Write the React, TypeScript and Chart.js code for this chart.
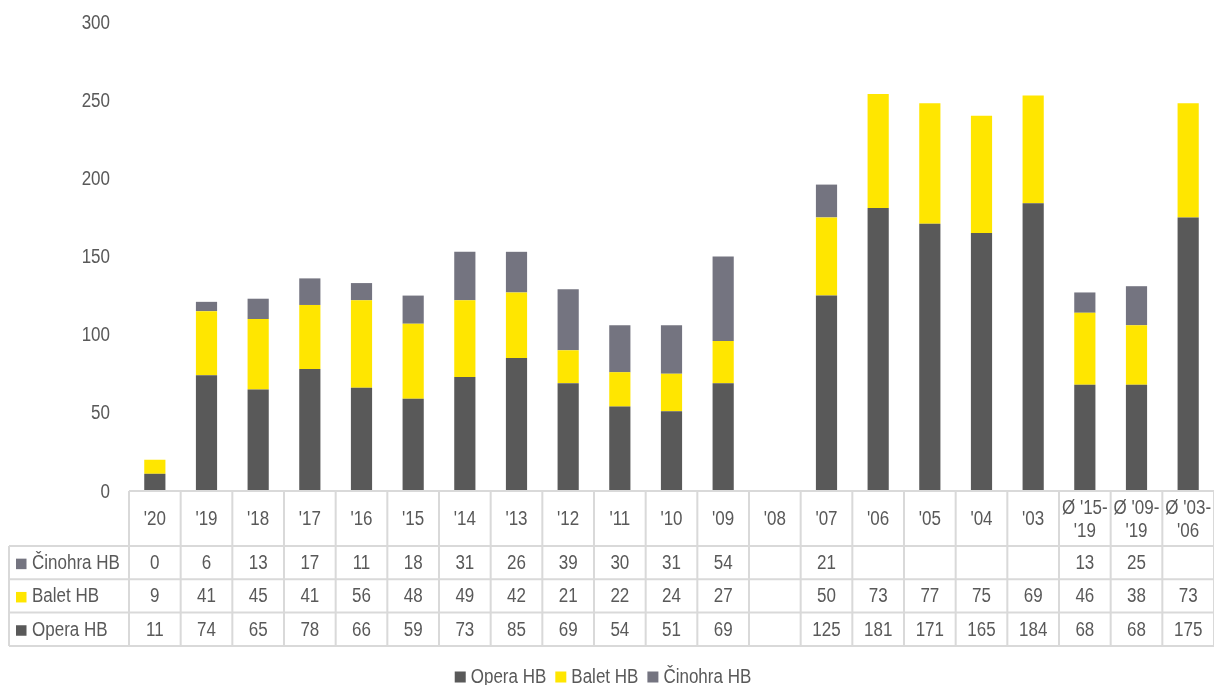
import React, { useEffect, useRef } from 'react';
import { Chart, registerables } from 'chart.js';

Chart.register(...registerables);

const categories: string[][] = [
  ["'20"], ["'19"], ["'18"], ["'17"], ["'16"], ["'15"], ["'14"], ["'13"], ["'12"], ["'11"], ["'10"], ["'09"],
  ["'08"], ["'07"], ["'06"], ["'05"], ["'04"], ["'03"],
  ["Ø '15-", "'19"], ["Ø '09-", "'19"], ["Ø '03-", "'06"],
];
const operaHB: (number | null)[] = [11, 74, 65, 78, 66, 59, 73, 85, 69, 54, 51, 69, null, 125, 181, 171, 165, 184, 68, 68, 175];
const baletHB: (number | null)[] = [9, 41, 45, 41, 56, 48, 49, 42, 21, 22, 24, 27, null, 50, 73, 77, 75, 69, 46, 38, 73];
const cinohraHB: (number | null)[] = [0, 6, 13, 17, 11, 18, 31, 26, 39, 30, 31, 54, null, 21, null, null, null, null, 13, 25, null];
const yTickMin = 0;
const yTickMax = 300;
const yTickStep = 50;

const COLORS = { opera: '#595959', balet: '#FFE600', cinohra: '#747480' };
const TEXT = '#595959';
const GRID = '#D9D9D9';
const FONT = '"Liberation Sans", Arial, sans-serif';
const FS = 20;
const SX = 0.85; // horizontal condensing to imitate a narrow face

function narrowText(ctx: CanvasRenderingContext2D, text: string, x: number, y: number, align: CanvasTextAlign) {
  ctx.save();
  ctx.translate(x, y);
  ctx.scale(SX, 1);
  ctx.textAlign = align;
  ctx.fillText(text, 0, 0);
  ctx.restore();
}

const tablePlugin = {
  id: 'dataTable',
  afterDraw(chart: any) {
    const ctx = chart.ctx as CanvasRenderingContext2D;
    const x = chart.scales.x;
    const yS = chart.scales.y;
    const area = chart.chartArea;
    const n = categories.length;
    const step = x.getPixelForValue(1) - x.getPixelForValue(0);
    const top = area.bottom;
    const headerH = 55;
    const rowH = 33.3;
    const legendLeft = 9;
    const rows = [
      { label: 'Činohra HB', color: COLORS.cinohra, data: cinohraHB },
      { label: 'Balet HB', color: COLORS.balet, data: baletHB },
      { label: 'Opera HB', color: COLORS.opera, data: operaHB },
    ];
    const bottom = top + headerH + rowH * rows.length;
    ctx.save();
    ctx.fillStyle = TEXT;
    ctx.font = `${FS}px ${FONT}`;
    ctx.textBaseline = 'middle';

    // y tick labels
    yS.ticks.forEach((t: any) => {
      narrowText(ctx, String(t.value), 110, yS.getPixelForValue(t.value) + 1, 'right');
    });

    ctx.strokeStyle = GRID;
    ctx.lineWidth = 2;
    ctx.beginPath();
    ctx.moveTo(area.left, top);
    ctx.lineTo(area.right, top);
    for (let r = 0; r <= rows.length; r++) {
      const y = top + headerH + rowH * r;
      ctx.moveTo(legendLeft, y);
      ctx.lineTo(area.right, y);
    }
    for (let i = 0; i <= n; i++) {
      const xp = x.getPixelForValue(0) - step / 2 + step * i;
      ctx.moveTo(xp, top);
      ctx.lineTo(xp, bottom);
    }
    ctx.moveTo(legendLeft, top + headerH);
    ctx.lineTo(legendLeft, bottom);
    ctx.stroke();

    categories.forEach((lines, i) => {
      const cx = x.getPixelForValue(i);
      const cy = top + headerH / 2 + 1;
      const lh = 23;
      lines.forEach((ln, k) => {
        narrowText(ctx, ln, cx, cy + (k - (lines.length - 1) / 2) * lh, 'center');
      });
    });
    rows.forEach((row, r) => {
      const cy = top + headerH + rowH * r + rowH / 2 + 1;
      ctx.fillStyle = row.color;
      ctx.fillRect(16, cy - 5, 10.5, 10.5);
      ctx.fillStyle = TEXT;
      narrowText(ctx, row.label, 32, cy, 'left');
      row.data.forEach((v, i) => {
        if (v === null) return;
        narrowText(ctx, String(v), x.getPixelForValue(i), cy, 'center');
      });
    });

    // legend
    const items = [
      { label: 'Opera HB', color: COLORS.opera },
      { label: 'Balet HB', color: COLORS.balet },
      { label: 'Činohra HB', color: COLORS.cinohra },
    ];
    const box = 11;
    const gapBox = 5;
    const gapItem = 9;
    const widths = items.map((it) => box + gapBox + ctx.measureText(it.label).width * SX);
    const total = widths.reduce((a, b) => a + b, 0) + gapItem * (items.length - 1);
    let lx = 603 - total / 2;
    const ly = 677;
    items.forEach((it, k) => {
      ctx.fillStyle = it.color;
      ctx.fillRect(lx, ly - box / 2, box, box);
      ctx.fillStyle = TEXT;
      narrowText(ctx, it.label, lx + box + gapBox, ly, 'left');
      lx += widths[k] + gapItem;
    });
    ctx.restore();
  },
};

export default function App() {
  const ref = useRef<HTMLCanvasElement>(null);
  useEffect(() => {
    document.body.style.margin = '0';
    const chart = new Chart(ref.current as HTMLCanvasElement, {
      type: 'bar',
      data: {
        labels: categories.map((c) => c.join(' ')),
        datasets: [
          { label: 'Opera HB', data: operaHB, backgroundColor: COLORS.opera, stack: 's' },
          { label: 'Balet HB', data: baletHB, backgroundColor: COLORS.balet, stack: 's' },
          { label: 'Činohra HB', data: cinohraHB, backgroundColor: COLORS.cinohra, stack: 's' },
        ],
      },
      options: {
        responsive: false,
        animation: false,
        layout: { padding: { top: 22, bottom: 39, left: 0, right: 0 } },
        plugins: { legend: { display: false }, tooltip: { enabled: false } },
        datasets: { bar: { categoryPercentage: 1, barPercentage: 0.41 } },
        scales: {
          x: {
            stacked: true,
            grid: { display: false, drawTicks: false },
            border: { display: false },
            ticks: { display: false },
            afterFit: (s: any) => { s.height = 155; },
          },
          y: {
            stacked: true,
            min: yTickMin,
            max: yTickMax,
            grid: { display: false, drawTicks: false },
            border: { display: false },
            ticks: { display: false, stepSize: yTickStep },
            afterFit: (s: any) => { s.width = 129; },
          },
        },
      },
      plugins: [tablePlugin],
    } as any);
    return () => chart.destroy();
  }, []);
  return (
    <div style={{ width: 1214, height: 685 }}>
      <canvas ref={ref} width={1214} height={685} />
    </div>
  );
}
